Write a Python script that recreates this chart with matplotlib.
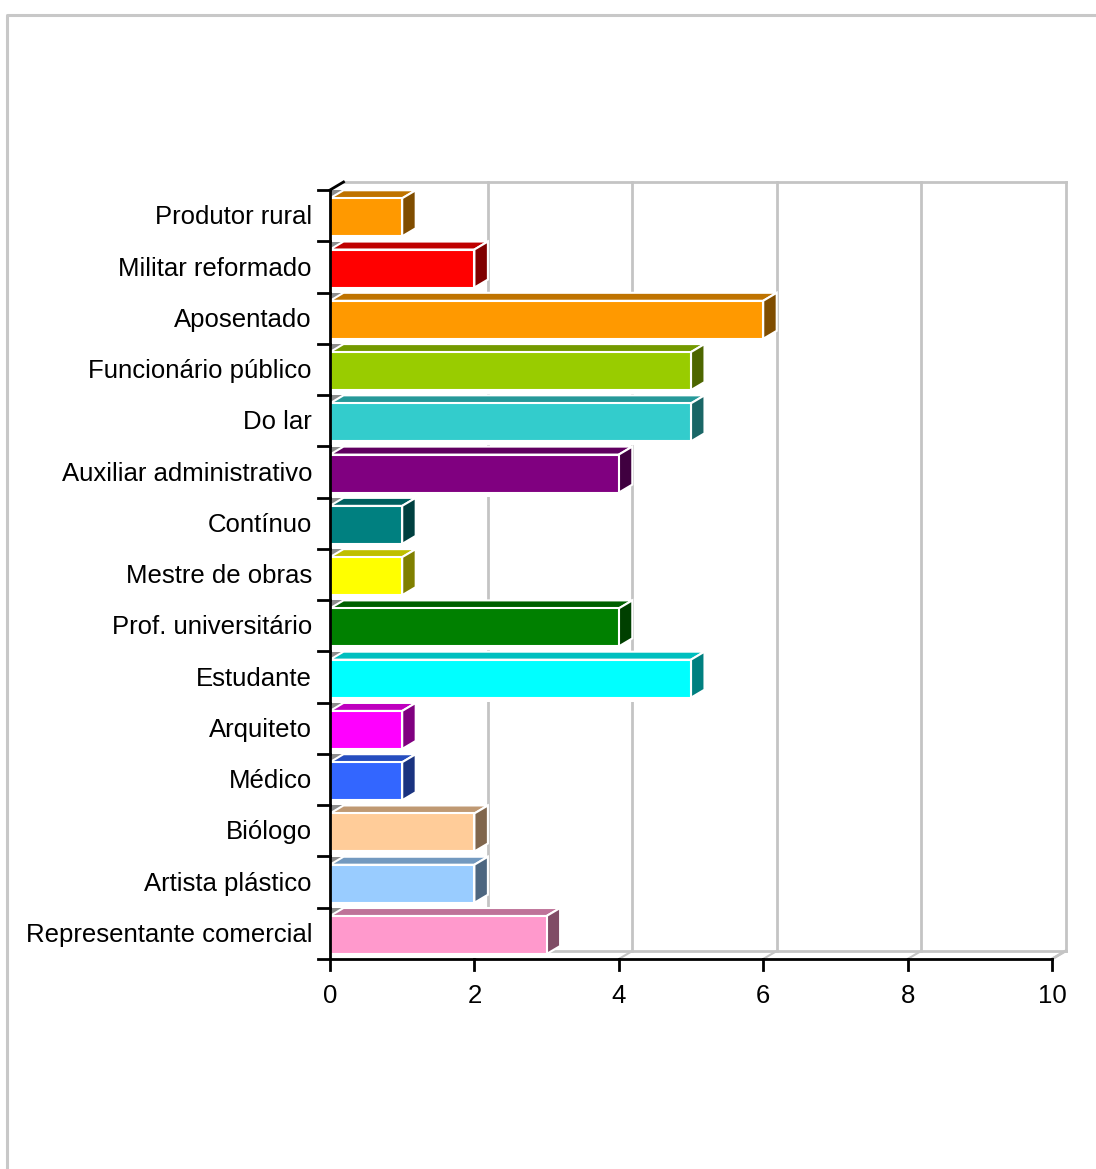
import matplotlib.pyplot as plt
from matplotlib.patches import Polygon, Rectangle
import numpy as np

plt.rcParams['font.family'] = ['Liberation Sans', 'DejaVu Sans']

# categories from top to bottom
categorias = ['Produtor rural', 'Militar reformado', 'Aposentado', 'Funcionário público',
              'Do lar', 'Auxiliar administrativo', 'Contínuo', 'Mestre de obras',
              'Prof. universitário', 'Estudante', 'Arquiteto', 'Médico', 'Biólogo',
              'Artista plástico', 'Representante comercial']
valores = [1, 2, 6, 5, 5, 4, 1, 1, 4, 5, 1, 1, 2, 2, 3]
cores = ['#FF9900', '#FF0000', '#FF9900', '#99CC00', '#33CCCC', '#800080', '#008080',
         '#FFFF00', '#008000', '#00FFFF', '#FF00FF', '#3366FF', '#FFCC99', '#99CCFF',
         '#FF99CC']
xticks = [0, 2, 4, 6, 8, 10]

W, H = 1096, 1169
fig = plt.figure(figsize=(W / 100, H / 100), dpi=100)

# outer frame
fr = fig.add_axes([0, 0, 1, 1])
fr.set_xlim(0, W)
fr.set_ylim(H, 0)
fr.axis('off')
fr.plot([7, 7, W + 5], [H + 5, 15, 15], color='#C8C8C8', lw=2.2)

# plot area in pixels: x 330..1052, y 190..959
x0, x1, y0, y1 = 330, 1052, 190, 959
ax = fig.add_axes([x0 / W, (H - y1) / H, (x1 - x0) / W, (y1 - y0) / H])
n = len(categorias)
ax.set_xlim(0, 10)
ax.set_ylim(0, n)
ax.axis('off')

ux = (x1 - x0) / 10.0
uy = (y1 - y0) / n
dx = 13.5 / ux
dy = 8.0 / uy

grid = '#C4C4C4'
# back wall
for v in xticks[1:]:
    ax.plot([v + dx, v + dx], [dy, n + dy], color=grid, lw=2, zorder=1, clip_on=False)
    ax.plot([v, v + dx], [0, dy], color=grid, lw=1.5, zorder=1, clip_on=False)
ax.plot([dx, 10 + dx], [n + dy, n + dy], color=grid, lw=2, zorder=1, clip_on=False)
ax.plot([dx, 10 + dx], [dy, dy], color=grid, lw=2, zorder=1, clip_on=False)

def escuro(c, f):
    r, g, b = [int(c[k:k + 2], 16) / 255 for k in (1, 3, 5)]
    return (r * f, g * f, b * f)

for idx, (cat, val, cor) in enumerate(zip(categorias, valores, cores)):
    i = n - 1 - idx
    bot = i + 5 / uy
    top = i + 43 / uy
    # bar body hides the back grid between rows
    ax.add_patch(Rectangle((0, i + 0.02), val, top - i, facecolor='white',
                           edgecolor='none', zorder=2, clip_on=False))
    # floor shadow triangle at the left wall
    ax.add_patch(Polygon([(0, top), (0, top + dy), (dx, top + dy)], closed=True,
                         facecolor='#8C8C8C', edgecolor='none', zorder=2, clip_on=False))
    ax.add_patch(Polygon([(0, top), (val, top), (val + dx, top + dy), (dx, top + dy)],
                         closed=True, facecolor=escuro(cor, 0.75), edgecolor='white',
                         lw=1.5, zorder=3, clip_on=False))
    ax.add_patch(Polygon([(val, bot), (val + dx, bot + dy), (val + dx, top + dy), (val, top)],
                         closed=True, facecolor=escuro(cor, 0.5), edgecolor='white',
                         lw=1.5, zorder=3, clip_on=False))
    ax.add_patch(Rectangle((0, bot), val, top - bot, facecolor=cor, edgecolor='white',
                           lw=1.5, zorder=4, clip_on=False))
    ax.text(-18 / ux, (bot + top) / 2, cat, ha='right', va='center', fontsize=18.5,
            color='black', clip_on=False)

# axes
ax.plot([0, 0], [0, n], color='black', lw=2, zorder=6, clip_on=False)
ax.plot([0, dx], [n, n + dy], color='black', lw=2, zorder=6, clip_on=False)
ax.plot([0, 10], [0, 0], color='black', lw=2, zorder=6, clip_on=False)
ax.plot([10, 10 + dx], [0, dy], color=grid, lw=2, zorder=1, clip_on=False)
for i in range(n + 1):
    ax.plot([-12 / ux, 0], [i, i], color='black', lw=2, zorder=6, clip_on=False)
for v in xticks:
    ax.plot([v, v], [0, -11 / uy], color='black', lw=2, zorder=6, clip_on=False)
    ax.text(v, -37 / uy, str(v), ha='center', va='center', fontsize=18.5, clip_on=False)

fig.savefig('out.png', dpi=100)
